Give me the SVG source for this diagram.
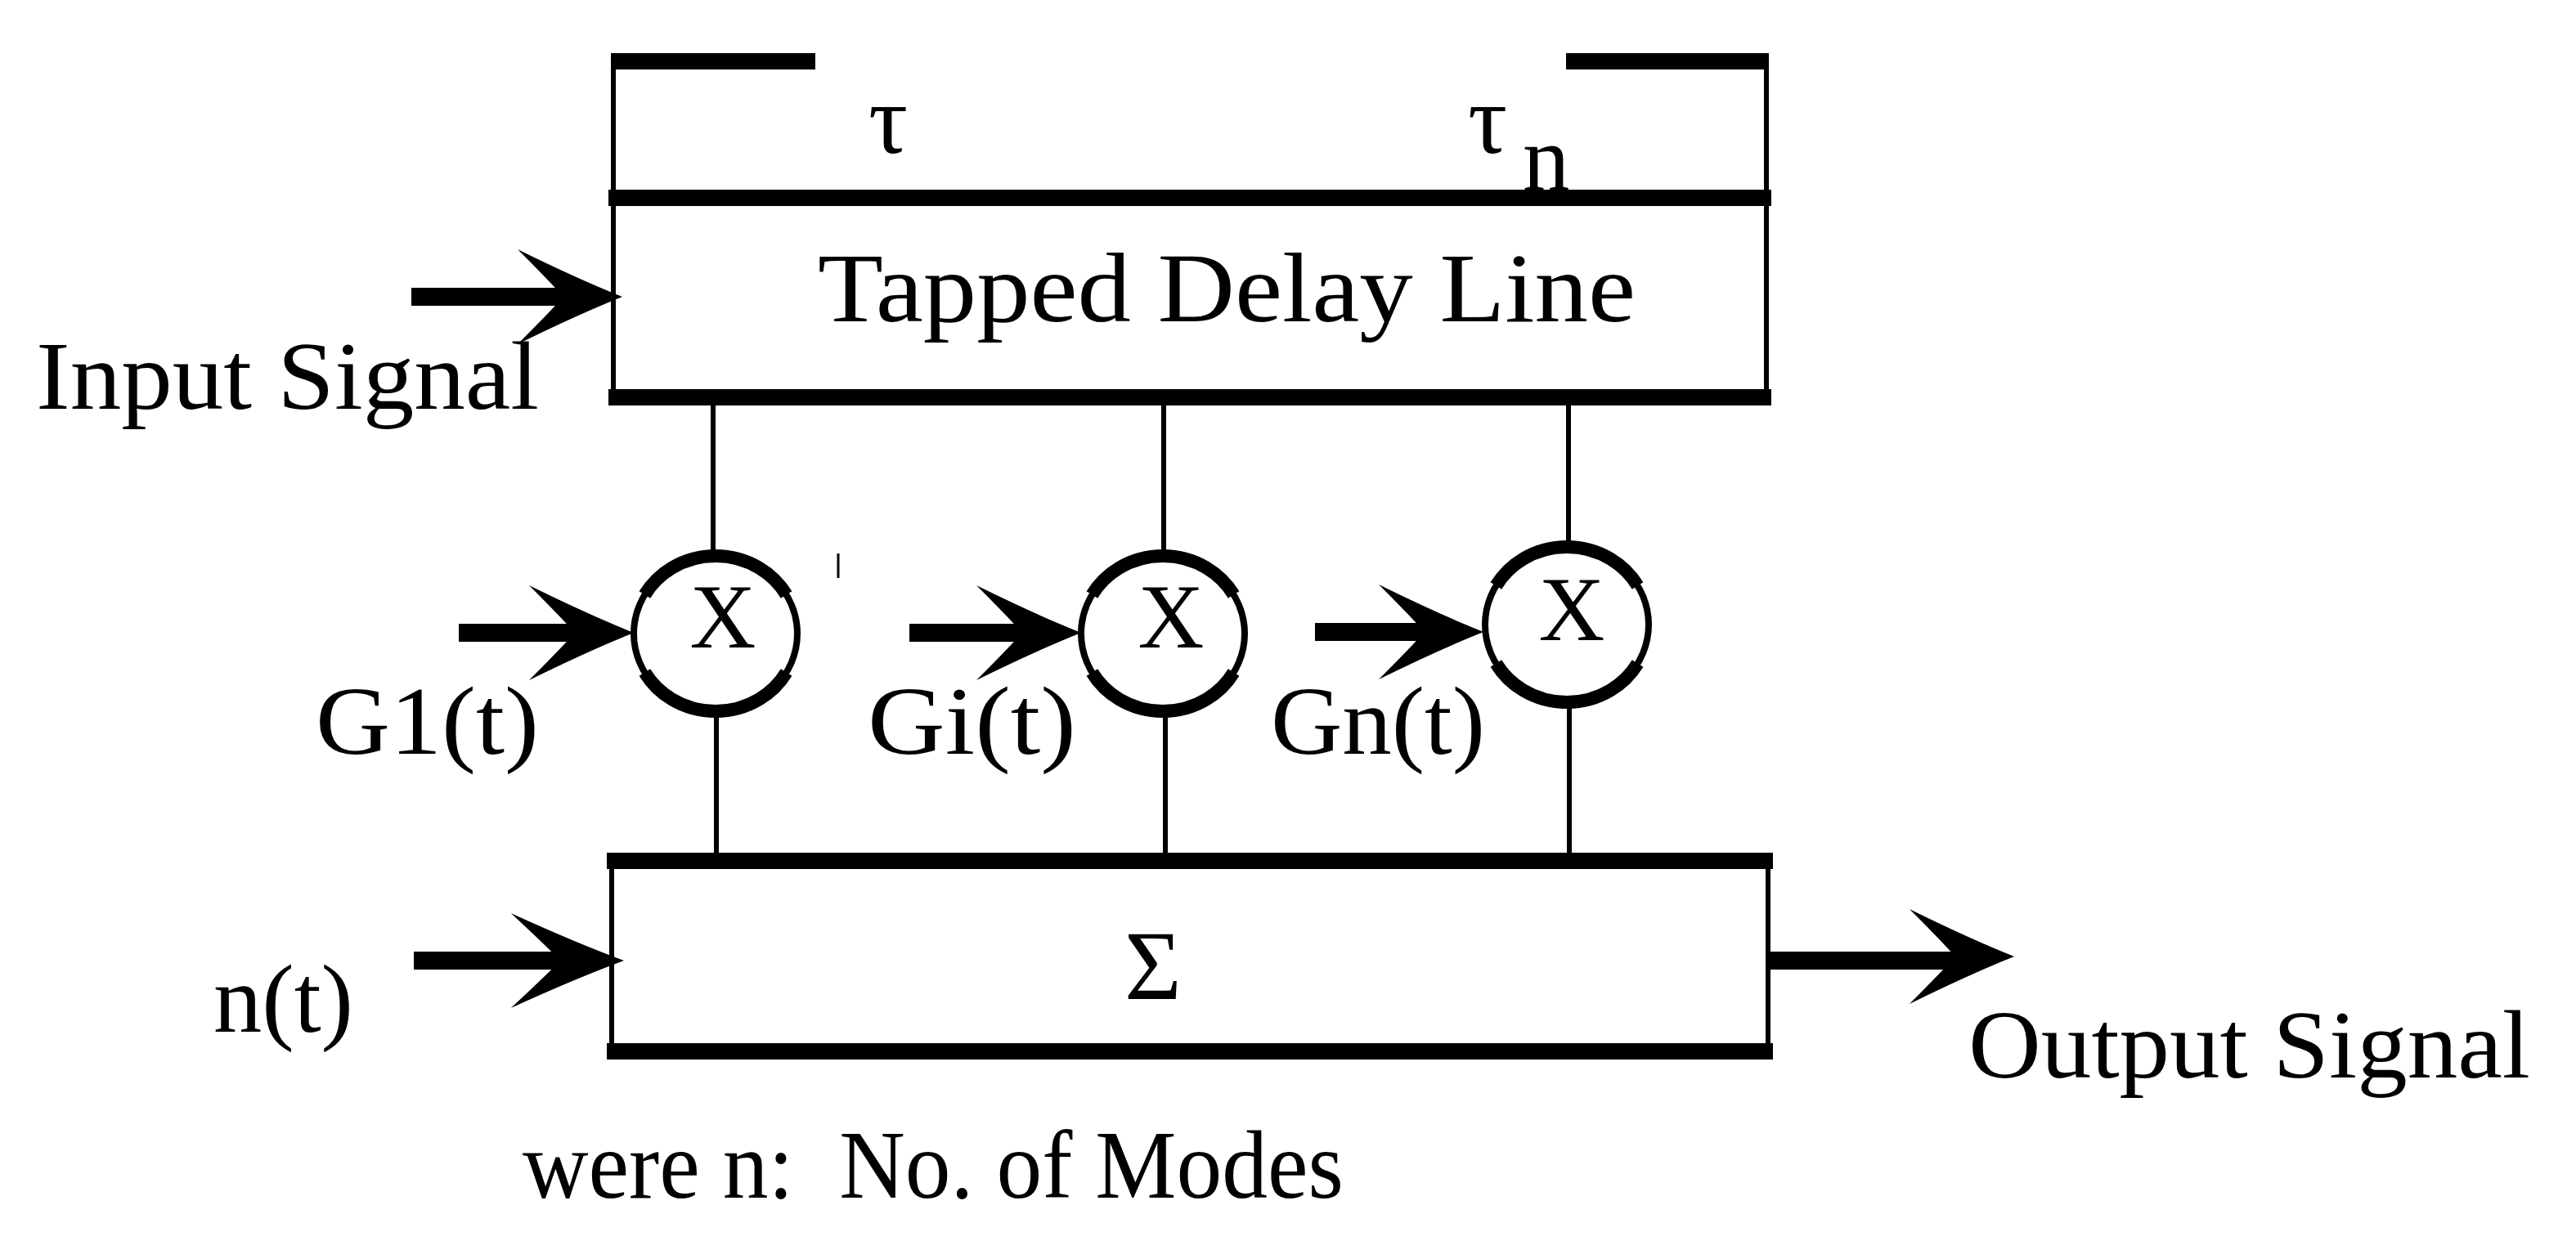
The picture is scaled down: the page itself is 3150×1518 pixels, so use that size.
<svg xmlns="http://www.w3.org/2000/svg" width="3150" height="1518" viewBox="0 0 3150 1518">
<defs>
<style>
.t{font-family:"Liberation Serif","Times New Roman",serif;fill:#000;white-space:pre;}
.thick{stroke:#000;stroke-width:20;fill:none;}
.thin{stroke:#000;stroke-width:6;fill:none;}
.shaft{stroke:#000;stroke-width:22;fill:none;}
.arc{stroke:#000;stroke-width:16;fill:none;}
</style>
<path id="ah" d="M0 0 Q-55 -22 -128 -58 Q-92 -22 -72 0 Q-92 22 -128 58 Q-55 22 0 0 Z" fill="#000"/>
</defs>
<rect width="3150" height="1518" fill="#fff"/>

<g id="bracket">
<line class="thick" x1="750" y1="75" x2="997" y2="75"/>
<line class="thick" x1="1915" y1="75" x2="2162" y2="75"/>
<line class="thin" x1="750" y1="65" x2="750" y2="242"/>
<line class="thin" x1="2160" y1="65" x2="2160" y2="242"/>
<text class="t" x="1062" y="187" font-size="120">τ</text>
<text class="t" x="1795" y="187" font-size="120">τ</text>
<text class="t" x="1862" y="232" font-size="115">n</text>
</g>

<g id="delay-line">
<line class="thick" x1="744" y1="242" x2="2166" y2="242"/>
<line class="thick" x1="744" y1="486" x2="2166" y2="486"/>
<line class="thin" x1="750" y1="242" x2="750" y2="486"/>
<line class="thin" x1="2160" y1="242" x2="2160" y2="486"/>
<text class="t" x="1000" y="393" font-size="120" textLength="1000" lengthAdjust="spacingAndGlyphs">Tapped Delay Line</text>
</g>

<g id="sum">
<line class="thick" x1="742" y1="1053" x2="2168" y2="1053"/>
<line class="thick" x1="742" y1="1286" x2="2168" y2="1286"/>
<line class="thin" x1="748" y1="1053" x2="748" y2="1286"/>
<line class="thin" x1="2162" y1="1053" x2="2162" y2="1286"/>
<text class="t" x="1410" y="1222" font-size="120" text-anchor="middle">Σ</text>
</g>

<g id="mult1">
<ellipse cx="875" cy="775" rx="100" ry="95" fill="#fff" stroke="#000" stroke-width="8"/>
<path class="arc" d="M788.4 727.5 A100 95 0 0 1 961.6 727.5"/>
<path class="arc" d="M788.4 822.5 A100 95 0 0 0 961.6 822.5"/>
<text class="t" x="884" y="792" font-size="112" text-anchor="middle">X</text>
</g>
<g id="mult2">
<ellipse cx="1422" cy="775" rx="100" ry="95" fill="#fff" stroke="#000" stroke-width="8"/>
<path class="arc" d="M1335.4 727.5 A100 95 0 0 1 1508.6 727.5"/>
<path class="arc" d="M1335.4 822.5 A100 95 0 0 0 1508.6 822.5"/>
<text class="t" x="1432" y="792" font-size="112" text-anchor="middle">X</text>
</g>
<g id="mult3">
<ellipse cx="1916" cy="764" rx="100" ry="95" fill="#fff" stroke="#000" stroke-width="8"/>
<path class="arc" d="M1829.4 716.5 A100 95 0 0 1 2002.6 716.5"/>
<path class="arc" d="M1829.4 811.5 A100 95 0 0 0 2002.6 811.5"/>
<text class="t" x="1922" y="783" font-size="112" text-anchor="middle">X</text>
</g>

<g id="labels">
<text class="t" x="44" y="500" font-size="118" textLength="615" lengthAdjust="spacingAndGlyphs">Input Signal</text>
<text class="t" x="386" y="922" font-size="118" textLength="273" lengthAdjust="spacingAndGlyphs">G1(t)</text>
<text class="t" x="1061" y="922" font-size="118" textLength="255" lengthAdjust="spacingAndGlyphs">Gi(t)</text>
<text class="t" x="1554" y="922" font-size="118" textLength="262" lengthAdjust="spacingAndGlyphs">Gn(t)</text>
<text class="t" x="261" y="1262" font-size="118" textLength="171" lengthAdjust="spacingAndGlyphs">n(t)</text>
<text class="t" x="2407" y="1318" font-size="118" textLength="687" lengthAdjust="spacingAndGlyphs">Output Signal</text>
<text class="t" x="639" y="1465" font-size="118" textLength="1004" lengthAdjust="spacingAndGlyphs">were n:  No. of Modes</text>
</g>

<g id="connectors">
<line class="thin" x1="872" y1="495" x2="872" y2="682"/>
<line class="thin" x1="1423" y1="495" x2="1423" y2="682"/>
<line class="thin" x1="1918" y1="495" x2="1918" y2="670"/>
<line class="thin" x1="876" y1="868" x2="876" y2="1043"/>
<line class="thin" x1="1425" y1="868" x2="1425" y2="1043"/>
<line class="thin" x1="1919" y1="858" x2="1919" y2="1043"/>
<line stroke="#000" stroke-width="3" x1="1025" y1="677" x2="1025" y2="707"/>
<line class="shaft" x1="503" y1="363" x2="700" y2="363"/>
<use href="#ah" transform="translate(761,363)"/>
<line class="shaft" x1="561" y1="774" x2="720" y2="774"/>
<use href="#ah" transform="translate(775,774)"/>
<line class="shaft" x1="1112" y1="774" x2="1260" y2="774"/>
<use href="#ah" transform="translate(1322,774)"/>
<line class="shaft" x1="1608" y1="773" x2="1750" y2="773"/>
<use href="#ah" transform="translate(1814,773)"/>
<line class="shaft" x1="506" y1="1175" x2="700" y2="1175"/>
<use href="#ah" transform="translate(763,1175) scale(1.08,1)"/>
<line class="shaft" x1="2164" y1="1175" x2="2400" y2="1175"/>
<use href="#ah" transform="translate(2463,1170)"/>
</g>
</svg>
